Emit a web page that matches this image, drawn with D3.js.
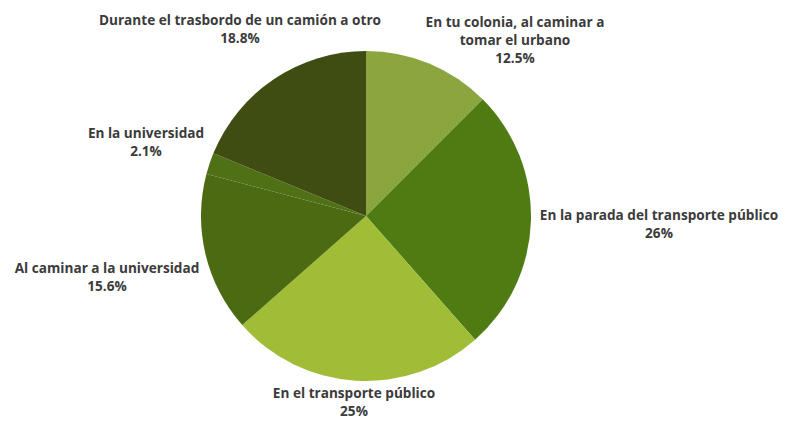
<!DOCTYPE html>
<html>
<head>
<meta charset="utf-8">
<script src="https://cdn.jsdelivr.net/npm/d3@7"></script>
<style>
  html, body { margin: 0; padding: 0; background: #ffffff; }
  svg { display: block; }
  text { font-family: "Open Sans", "Noto Sans", sans-serif; font-weight: 700; font-size: 13.6px; fill: #3b3b3b; }
</style>
</head>
<body>
<svg id="chart" width="785" height="421"></svg>
<script>
// Where harassment happens on the way to the university (% of responses)
const categories = [
  ["En tu colonia, al caminar a", "tomar el urbano"],
  ["En la parada del transporte público"],
  ["En el transporte público"],
  ["Al caminar a la universidad"],
  ["En la universidad"],
  ["Durante el trasbordo de un camión a otro"]
];
const values = [12.5, 26, 25, 15.6, 2.1, 18.8];
const valueLabels = ["12.5%", "26%", "25%", "15.6%", "2.1%", "18.8%"];
const colors = ["#8ba63e", "#4f7b13", "#a1bd37", "#4b6a11", "#4f7014", "#3f4d12"];

// Label block centres (x, baseline of the first line)
const labelAnchors = [
  [515, 27], [659, 220], [354, 398], [107, 273], [146, 138], [240, 25]
];

const width = 785, height = 421;
const cx = 366, cy = 216, radius = 165;
const lineHeight = 18;

const svg = d3.select("#chart");
const g = svg.append("g").attr("transform", `translate(${cx},${cy})`);

const pie = d3.pie().sort(null).value(d => d)(values);
const arc = d3.arc().innerRadius(0).outerRadius(radius);

g.selectAll("path.slice")
  .data(pie)
  .join("path")
  .attr("class", "slice")
  .attr("d", arc)
  .attr("fill", (d, i) => colors[i])
  .attr("stroke", "none");

const labels = svg.append("g")
  .selectAll("text")
  .data(pie)
  .join("text")
  .attr("text-anchor", "middle")
  .attr("x", (d, i) => labelAnchors[i][0])
  .attr("y", (d, i) => labelAnchors[i][1]);

labels.each(function (d, i) {
  const t = d3.select(this);
  const lines = categories[i].concat([valueLabels[i]]);
  lines.forEach((line, k) => {
    t.append("tspan")
      .attr("x", labelAnchors[i][0])
      .attr("dy", k === 0 ? 0 : lineHeight)
      .text(line);
  });
});
</script>
</body>
</html>
